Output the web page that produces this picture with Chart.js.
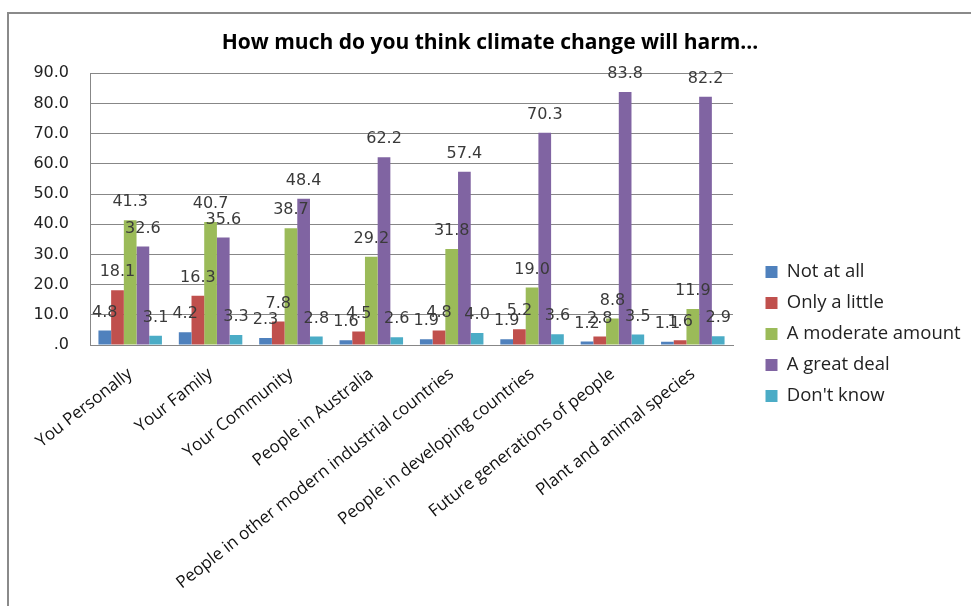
<!DOCTYPE html>
<html>
<head>
<meta charset="utf-8">
<script src="https://cdn.jsdelivr.net/npm/chart.js@4.4.1/dist/chart.umd.min.js"></script>
<style>
  html, body { margin: 0; padding: 0; background: #fff; }
  #frame {
    position: absolute; left: 7px; top: 12px;
    width: 962px; height: 594px;
    border-left: 2px solid #8a8a8a; border-top: 2px solid #8a8a8a;
    overflow: hidden;
  }
  canvas { display: block; }
</style>
</head>
<body>
<div id="frame"><canvas id="c" width="962" height="592"></canvas></div>
<script>
// Survey: "How much do you think climate change will harm..." (percent of respondents)
const categories = [
  'You Personally', 'Your Family', 'Your Community', 'People in Australia',
  'People in other modern industrial countries', 'People in developing countries',
  'Future generations of people', 'Plant and animal species'
];
const seriesNames = ['Not at all', 'Only a little', 'A moderate amount', 'A great deal', "Don't know"];
const notAtAll       = [4.8, 4.2, 2.3, 1.6, 1.9, 1.9, 1.2, 1.1];
const onlyALittle    = [18.1, 16.3, 7.8, 4.5, 4.8, 5.2, 2.8, 1.6];
const moderateAmount = [41.3, 40.7, 38.7, 29.2, 31.8, 19.0, 8.8, 11.9];
const greatDeal      = [32.6, 35.6, 48.4, 62.2, 57.4, 70.3, 83.8, 82.2];
const dontKnow       = [3.1, 3.3, 2.8, 2.6, 4.0, 3.6, 3.5, 2.9];
const yTicks = [0, 10, 20, 30, 40, 50, 60, 70, 80, 90];

const seriesColors = ['#4F81BD', '#C0504D', '#9BBB59', '#8064A2', '#4BACC6'];
const seriesValues = [notAtAll, onlyALittle, moderateAmount, greatDeal, dontKnow];

const NUM_FONT = 'DejaVu Sans';
const TEXT_FONT = 'Open Sans';

// Value labels centred above each bar
const valueLabels = {
  id: 'valueLabels',
  afterDatasetsDraw(chart) {
    const ctx = chart.ctx;
    ctx.save();
    ctx.font = '16px "' + NUM_FONT + '"';
    ctx.fillStyle = '#3a3a3a';
    ctx.textAlign = 'center';
    ctx.textBaseline = 'middle';
    chart.data.datasets.forEach((ds, i) => {
      chart.getDatasetMeta(i).data.forEach((bar, j) => {
        ctx.fillText(ds.data[j].toFixed(1), bar.x, bar.y - 18);
      });
    });
    ctx.restore();
  }
};

// Fixed-width legend column, keys set off from the plot and lowered a little
const LEGEND_WIDTH = 238;
const LEGEND_GAP = 20;
const LEGEND_DROP = 24;
const legendSpacing = {
  id: 'legendSpacing',
  beforeLayout(chart) {
    const lg = chart.legend;
    if (lg && !lg._fixedFit) {
      const fit = lg.fit;
      lg.fit = function () { fit.call(this); this.width = LEGEND_WIDTH; };
      lg._fixedFit = true;
    }
  },
  afterLayout(chart) {
    const lg = chart.legend;
    if (lg) {
      lg.left += LEGEND_GAP;
      lg.top += LEGEND_DROP;
      lg.bottom += LEGEND_DROP;
    }
  }
};

new Chart(document.getElementById('c'), {
  type: 'bar',
  data: {
    labels: categories,
    datasets: seriesNames.map((name, i) => ({
      label: name,
      data: seriesValues[i],
      backgroundColor: seriesColors[i],
      borderWidth: 0,
      categoryPercentage: 0.79,
      barPercentage: 1.0
    }))
  },
  options: {
    responsive: false,
    animation: false,
    layout: { padding: { left: 0, right: 0, top: 0, bottom: 0 } },
    plugins: {
      title: {
        display: true,
        text: 'How much do you think climate change will harm...',
        color: '#000',
        font: { family: TEXT_FONT, size: 21, weight: 'bold' },
        padding: { top: 16, bottom: 18 }
      },
      legend: {
        position: 'right',
        align: 'center',
        labels: {
          color: '#222',
          font: { family: TEXT_FONT, size: 18.5 },
          boxWidth: 12,
          boxHeight: 12,
          padding: 12.5
        }
      },
      tooltip: { enabled: false }
    },
    scales: {
      x: {
        grid: { display: false, drawTicks: false },
        border: { display: true, color: '#878787', width: 1 },
        ticks: {
          autoSkip: false,
          minRotation: 38,
          maxRotation: 38,
          padding: 19,
          color: '#111',
          font: { family: TEXT_FONT, size: 17 }
        },
        afterFit(scale) { scale.height = 261; }
      },
      y: {
        min: 0,
        max: 90,
        afterBuildTicks(scale) { scale.ticks = yTicks.map(v => ({ value: v })); },
        grid: { color: '#878787', lineWidth: 1, drawTicks: false },
        border: { display: true, color: '#878787', width: 1 },
        ticks: {
          padding: 21,
          color: '#222',
          font: { family: NUM_FONT, size: 16 },
          callback: v => v.toFixed(1).replace(/^0\./, '.')
        },
        afterFit(scale) { scale.width = 81; }
      }
    }
  },
  plugins: [valueLabels, legendSpacing]
});
</script>
</body>
</html>
